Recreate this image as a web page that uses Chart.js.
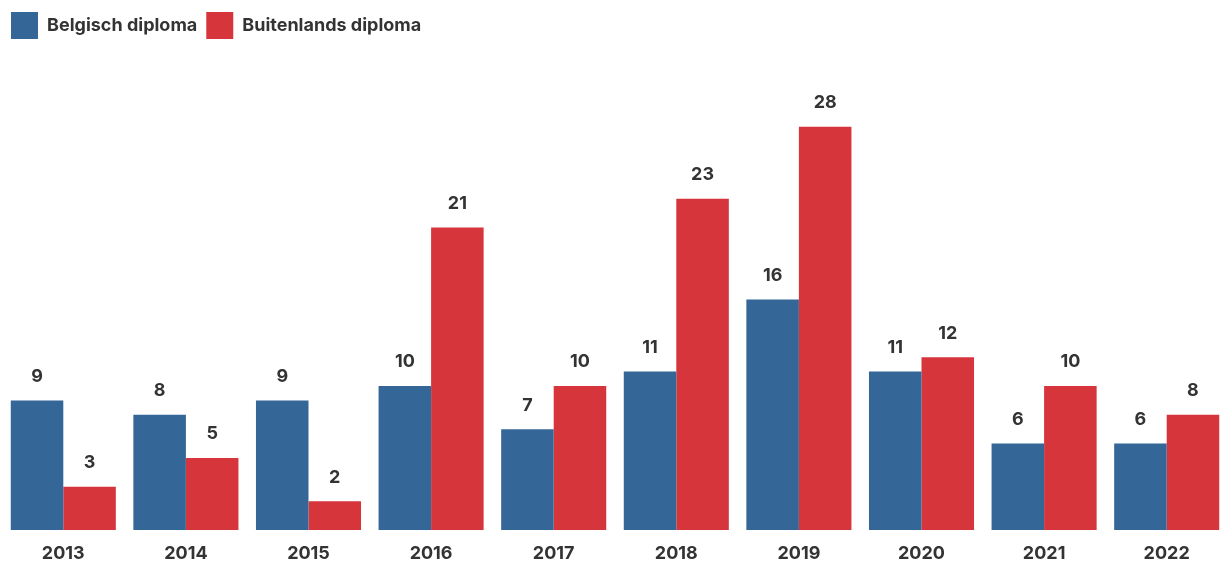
<!DOCTYPE html>
<html>
<head>
<meta charset="utf-8">
<script src="https://cdn.jsdelivr.net/npm/chart.js@4/dist/chart.umd.min.js"></script>
<style>
  html, body { margin: 0; padding: 0; background: #fff; overflow: hidden; }
  #wrap { width: 1228px; height: 563px; position: relative; }
</style>
</head>
<body>
<div id="wrap"><canvas id="barChart"></canvas></div>
<script>
const years = ['2013', '2014', '2015', '2016', '2017', '2018', '2019', '2020', '2021', '2022'];
const belgisch = [9, 8, 9, 10, 7, 11, 16, 11, 6, 6];
const buitenlands = [3, 5, 2, 21, 10, 23, 28, 12, 10, 8];
const textColor = '#333333';
const fontFamily = 'Inter, "Liberation Sans", sans-serif';

// draws the value above each bar
const valueLabels = {
    id: 'valueLabels',
    afterDatasetsDraw(chart) {
        const c = chart.ctx;
        c.save();
        c.font = '700 18px ' + fontFamily;
        c.fillStyle = textColor;
        c.textAlign = 'center';
        c.textBaseline = 'middle';
        chart.data.datasets.forEach((ds, i) => {
            chart.getDatasetMeta(i).data.forEach((bar, j) => {
                c.fillText(ds.data[j], bar.x, bar.y - 24);
            });
        });
        c.restore();
    }
};

// fixed legend height so the plot starts at the right place
const legendHeight = {
    id: 'legendHeight',
    beforeInit(chart) {
        const origFit = chart.legend.fit;
        chart.legend.fit = function () {
            origFit.bind(chart.legend)();
            this.height = 95;
        };
    }
};

const ctx = document.getElementById('barChart').getContext('2d');
const barChart = new Chart(ctx, {
    type: 'bar',
    data: {
        labels: years,
        datasets: [{
            label: 'Belgisch diploma',
            data: belgisch,
            backgroundColor: '#356698'
        }, {
            label: 'Buitenlands diploma',
            data: buitenlands,
            backgroundColor: '#d6363b'
        }]
    },
    options: {
        responsive: true,
        maintainAspectRatio: false,
        animation: false,
        layout: { padding: { left: 2, right: 0, top: 3, bottom: 2 } },
        datasets: {
            bar: { categoryPercentage: 0.857, barPercentage: 1.0, borderWidth: 0 }
        },
        plugins: {
            legend: {
                position: 'top',
                align: 'start',
                labels: {
                    boxWidth: 27,
                    boxHeight: 27,
                    padding: 9,
                    color: textColor,
                    font: { family: fontFamily, size: 18, weight: '700' }
                }
            },
            tooltip: { enabled: false }
        },
        scales: {
            x: {
                grid: { display: false },
                border: { display: false },
                afterFit(scale) { scale.height = 31; },
                ticks: {
                    color: textColor,
                    padding: 5,
                    font: { family: fontFamily, size: 18, weight: '700' }
                }
            },
            y: {
                display: false,
                min: 0,
                max: 30
            }
        }
    },
    plugins: [valueLabels, legendHeight]
});
</script>
</body>
</html>
